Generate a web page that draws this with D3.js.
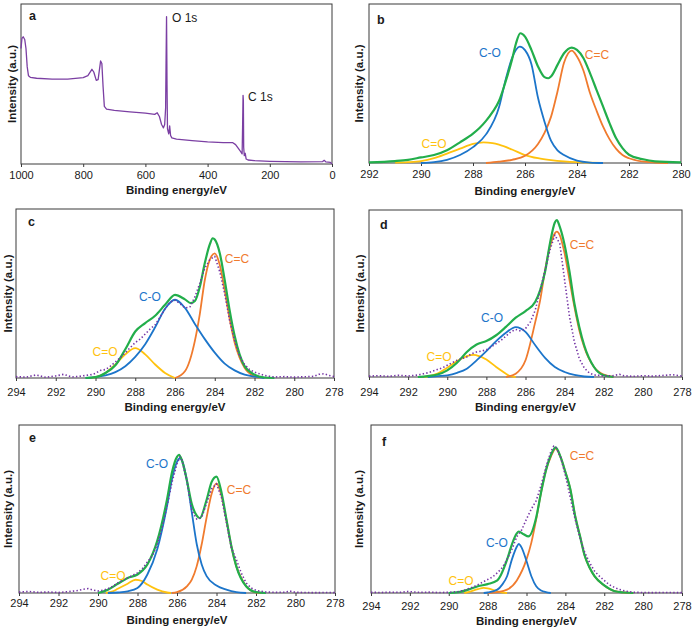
<!DOCTYPE html>
<html><head><meta charset="utf-8">
<script src="https://cdn.jsdelivr.net/npm/d3@7"></script>
<style>
html,body{margin:0;padding:0;background:#fff;}
svg{display:block;font-family:"Liberation Sans",Arial,sans-serif;}
</style></head>
<body>
<svg id="chart" width="694" height="629"></svg>
<script>
// ---------- DATA ----------
const xTitle = "Binding energy/eV";
const yTitle = "Intensity (a.u.)";
const ticksSurvey = [1000, 800, 600, 400, 200, 0];
const ticksB = [292, 290, 288, 286, 284, 282, 280];
const ticksCF = [294, 292, 290, 288, 286, 284, 282, 280, 278];

// panel a : survey spectrum [eV, intensity]
const surveyA = [[1000,72.2],[997,78.5],[993,79.5],[988,77.8],[984,72.2],[980,60.7],[976,55.2],[970,54.2],[950,53.6],[900,53.1],[850,53.1],[800,54.0],[785,55.2],[772,59.2],[766,57.5],[758,52.3],[752,52.7],[744,64.4],[740,62.8],[736,48.1],[732,36.0],[725,34.3],[700,33.5],[650,32.6],[600,31.8],[570,31.0],[562,32.0],[555,29.7],[548,24.7],[542,22.6],[538,24.7],[535,35],[533.5,65],[532,92.1],[530.5,50],[529,22.0],[525,18.8],[522,23.8],[519,17.8],[515,16.3],[500,15.5],[450,14.6],[400,13.8],[350,13.4],[320,13.4],[310,12.1],[300,9.4],[292,7.3],[289,6.3],[287.5,23.0],[286,42.9],[285,39.7],[284,10.5],[282,5.2],[279,6.7],[276,3.1],[270,2.5],[250,2.1],[200,1.7],[100,1.3],[30,1.5],[25,2.3],[20,1.3],[5,1.0],[0,0]];
const peakLabelsA = [{t:"O 1s", e:514.5, v:91.3},{t:"C 1s", e:270, v:41.9}];

// panel b
const bCC = [[287.5,0],[287,0.8],[286.5,2],[286,4.5],[285.5,12],[285.25,19],[285,29],[284.75,45],[284.5,63],[284.2,70.7],[284,67],[283.75,58],[283.5,44],[283.25,33],[283,23],[282.75,15],[282.5,9],[282.25,5],[282,3],[281.5,1],[281,0.3],[280.5,0]];
const bCO = [[290,0],[289.5,0.5],[289,2],[288.5,5],[288,10],[287.5,18],[287,35],[286.75,52],[286.5,66],[286.2,73.2],[286,71],[285.75,62],[285.5,41],[285.25,26],[285,14],[284.75,8],[284.5,5],[284,1.5],[283.5,0.3],[283,0]];
const bCdO = [[291,0.2],[290.5,0.5],[290,1.2],[289.5,3],[289,5.9],[288.5,9],[288,12],[287.6,13],[287.25,12.5],[287,11.5],[286.5,8.5],[286,5],[285.5,3],[285,1.8],[284.5,1],[284,0.5],[283.5,0.2],[283,0]];
const bFit = [[292,0.4],[291,1.2],[290.5,2],[290,3.5],[289.5,5],[289,8],[288.5,13],[288,18.5],[287.75,22],[287.5,26.5],[287.25,32],[287,39],[286.75,51],[286.5,65],[286.35,75],[286.18,81.6],[286,79.5],[285.75,71],[285.5,60.7],[285.25,54],[285.1,53.3],[285,54.4],[284.75,61.7],[284.5,69],[284.2,72.6],[284,71.1],[283.75,65.9],[283.5,56.5],[283.25,46],[283,35.6],[282.75,25.1],[282.5,15.7],[282.25,9.4],[282,5.2],[281.5,2.5],[281,1],[280,0.4]];

// panel c
const cCC = [[286,0],[285.5,4],[285,22],[284.75,38],[284.5,58],[284.25,70],[284,73.8],[283.75,67],[283.5,52],[283.25,35],[283,21],[282.75,12],[282.5,6],[282,1],[281.75,0]];
const cCO = [[290.5,0],[290,0.5],[289.5,1.5],[289,3.5],[288.5,7],[288,12.5],[287.5,20],[287,30],[286.5,41],[286,46.3],[285.5,41.5],[285,32],[284.5,23],[284,15],[283.5,8.5],[283,4.5],[282.5,2],[282,0.8],[281.5,0]];
const cCdO = [[290.2,0],[290,0.5],[289.5,3],[289,8],[288.5,14],[288,17.7],[287.5,14],[287,8],[286.5,3],[286,0]];
const cFit = [[290.5,0],[290,0.5],[289.5,3],[289,7.5],[288.5,17],[288,27.5],[287.5,32.5],[287,36.8],[286.5,43.3],[286,49.2],[285.5,46.5],[285.2,44.3],[285,45.5],[284.75,54],[284.5,68],[284.25,79],[284.1,82.7],[284,82],[283.75,74],[283.5,58],[283.25,40],[283,25],[282.75,14],[282.5,7],[282,2],[281.5,0.3],[281,0]];
const cRaw = [[294,0.8],[293.5,0.5],[293,1.8],[292.5,0.4],[292,1.2],[291.6,2.2],[291.2,0.6],[290.8,1.0],[290.5,1.5],[290.2,2.0],[290,2.8],[289.75,4.5],[289.5,5],[289.25,7],[289,9.5],[288.75,12],[288.5,15],[288.25,18],[288,21],[287.75,23],[287.5,26],[287.25,29],[287,31.5],[286.75,36],[286.5,41],[286.25,45],[286,46],[285.75,44],[285.5,41.5],[285.25,42],[285,48],[284.75,56],[284.5,65],[284.25,70],[284,72],[283.75,63],[283.5,50],[283.25,34],[283,22],[282.75,13],[282.5,8],[282.25,5],[282,3.5],[281.75,2.5],[281.5,1.5],[281.25,1.0],[281,0.6],[280.5,0.8],[280,0.5],[279.5,0.7],[279,1.0],[278.75,2.2],[278.5,2.5],[278.25,1.5],[278,0.8]];

// panel d
const dCC = [[287,0],[286.5,2],[286,10],[285.5,33],[285.25,46],[285,64],[284.75,78],[284.5,86],[284.4,87],[284.25,85],[284,74],[283.75,58],[283.5,42],[283.25,28],[283,18],[282.5,6],[282,1.4],[281.5,0]];
const dCO = [[291,0],[290.5,0.5],[290,1],[289.5,2.5],[289,5],[288.5,10],[288,15.5],[287.5,21.5],[287,26.5],[286.5,29.9],[286,27],[285.5,19],[285,11.5],[284.5,6],[284,3],[283.5,1.2],[283,0.3],[282.5,0]];
const dCdO = [[291.2,0],[291,0.3],[290.5,2],[290,5.5],[289.5,9.5],[289,12.5],[288.65,13.3],[288.5,13],[288,10.5],[287.5,6],[287,2],[286.8,0.5],[286.5,0]];
const dFit = [[291.5,0],[291,0.5],[290.5,1.5],[290,4],[289.5,8.5],[289,15],[288.5,19.5],[288,21.5],[287.5,25],[287,30],[286.5,35.5],[286,39.5],[285.5,45],[285.25,52],[285,63],[284.75,80],[284.5,92.5],[284.4,94],[284.25,90],[284,79],[283.75,63],[283.5,44],[283.25,30],[283,19],[282.5,6],[282,1],[281.5,0]];
const dRaw = [[294,0.5],[293.5,0.8],[293,0.4],[292.5,1.0],[292,0.6],[291.5,1.2],[291.2,2.0],[291,2.5],[290.75,3.5],[290.5,4.5],[290.25,5.5],[290,7],[289.75,8.5],[289.5,10],[289.25,11],[289,12],[288.75,14],[288.5,15],[288.25,15.5],[288,16.3],[287.75,18],[287.5,20],[287.25,22],[287,24.5],[286.75,27],[286.5,28.5],[286.25,27.5],[286,29],[285.75,33],[285.5,40],[285.25,52],[285,64],[284.75,76],[284.5,85],[284.25,80],[284,58],[283.75,36],[283.5,21],[283.25,11],[283,5.5],[282.75,2.5],[282.5,1.2],[282.25,1.0],[282,0.6],[281.5,0.8],[281.2,1.6],[281,0.8],[280.5,0.4],[280,0.8],[279.5,0.5],[279,0.9],[278.5,1.4],[278,0.6]];

// panel e
const eCC = [[286.25,0],[286,0.5],[285.5,4],[285.25,8],[285,16],[284.75,29],[284.5,45],[284.25,59],[284,65.3],[283.75,58],[283.5,43.6],[283.25,28],[283,16],[282.75,9],[282.5,4],[282,0.3],[281.75,0]];
const eCO = [[289.5,0],[289,0.3],[288.5,1],[288,3],[287.5,11],[287,26],[286.5,52],[286.25,68],[286,78],[285.85,80.2],[285.75,79],[285.5,67],[285.25,48],[285,29],[284.75,17],[284.5,10],[284,4.5],[283.5,2],[283,0.5],[282.5,0]];
const eCdO = [[289.6,0],[289.25,1],[289,2.5],[288.5,5.5],[288.1,7.9],[287.75,7],[287.5,5],[287,2],[286.5,0.3],[286.3,0]];
const eFit = [[290,0],[289.5,2],[289,5.5],[288.5,9],[288,11],[287.5,17],[287,31],[286.5,56],[286.25,72],[286,81],[285.9,82.2],[285.75,79],[285.5,67],[285.25,53],[285,46],[284.85,44.5],[284.5,55.5],[284.25,66],[284,69.3],[283.75,60],[283.5,44],[283.25,28],[283,16],[282.5,4],[282,0.5],[281.5,0]];
const eRaw = [[294,0.5],[293.5,0.9],[293,0.4],[292.5,0.6],[292,0.3],[291.5,0.8],[291,1.5],[290.75,2.2],[290.5,2.6],[290.25,1.8],[290,1.2],[289.75,1.6],[289.5,2.5],[289.25,4],[289,6],[288.75,7.5],[288.5,9],[288.25,10.5],[288,12],[287.75,14.5],[287.5,18.5],[287.25,22],[287,29],[286.75,39],[286.5,52],[286.25,66],[286,77],[285.85,81],[285.75,79],[285.5,67],[285.25,49],[285,44],[284.75,45],[284.5,53.5],[284.25,62],[284,65],[283.75,57],[283.5,42],[283.25,27],[283,20],[282.75,12],[282.5,6],[282.25,3],[282,1.6],[281.75,1.0],[281.5,0.6],[281,0.4],[280.5,0.5],[280.3,1.2],[280,0.4],[279.5,0.3],[279,0.2],[278.5,0.3],[278,0.2]];

// panel f
const fCC = [[288,0],[287.5,0.5],[287,2],[286.5,7.5],[286,20],[285.75,30],[285.5,44],[285.25,60],[285,73],[284.75,81],[284.5,86],[284.25,81],[284,72],[283.75,62],[283.5,46],[283.25,34],[283,22],[282.75,15],[282.5,10],[282,4.5],[281.5,1.2],[281,0.3],[280.5,0]];
const fCO = [[288.2,0],[288,0.3],[287.5,2],[287.25,5],[287,10],[286.75,20],[286.5,27.5],[286.4,29.3],[286.25,27],[286,19],[285.75,10],[285.5,4],[285.25,1.5],[285,0.5],[284.75,0]];
const fCdO = [[289.2,0],[289,0.5],[288.5,2.3],[288.2,3],[288,2.8],[287.5,1],[287.2,0.2],[287,0]];
const fFit = [[290,0],[289.5,0.5],[289,2],[288.5,4],[288,5.3],[287.5,7.5],[287,19.8],[286.75,29],[286.5,35.5],[286.4,36.6],[286.15,35],[285.9,33.7],[285.5,45],[285.25,60],[285,73],[284.75,82],[284.5,86.7],[284.25,81],[284,72],[283.75,62],[283.5,46],[283.25,34],[283,22],[282.75,15],[282.5,10],[282,4.5],[281.5,1.2],[281,0.3],[280.5,0]];
const fRaw = [[294,0.4],[293.5,0.3],[293,0.5],[292.5,0.4],[292.1,0.9],[291.5,0.4],[291,0.5],[290.5,0.3],[290,0.4],[289.5,0.8],[289.25,1.5],[289,2.5],[288.75,3.5],[288.5,5],[288.25,6.5],[288,8],[287.75,9.5],[287.5,12],[287.25,15],[287,20],[286.75,26],[286.5,33.5],[286.25,37.5],[286,44],[285.75,50],[285.5,55],[285.25,64],[285,75],[284.75,84],[284.6,87.5],[284.5,87],[284.25,81],[284,70],[283.75,57],[283.5,44],[283.25,33],[283,24],[282.75,18],[282.5,13],[282.25,10],[282,7.5],[281.75,5],[281.5,3.5],[281.25,2.2],[281,1.4],[280.75,0.8],[280.5,0.4],[280,0.3],[279.5,0.2],[279,0.3],[278,0.2]];

// component label positions in data units [eV, intensity]
const labelsB = {CO:[287.35,69.2], CC:[283.23,67.9], CdO:[289.5,11.9]};
const labelsC = {CO:[287.26,47.9], CC:[282.88,70.4], CdO:[289.52,15.4]};
const labelsD = {CO:[287.71,35.3], CC:[283.11,79], CdO:[290.42,12]};
const labelsE = {CO:[287.01,76.8], CC:[282.86,61.3], CdO:[289.24,10.1]};
const labelsF = {CO:[287.52,29.8], CC:[283.15,81.5], CdO:[289.37,7.1]};

// ---------- STYLE ----------
const COL = {fit:"#22AE4B", CO:"#1C75CA", CC:"#F07B2E", CdO:"#FFC20E", raw:"#7535A5", survey:"#7B3FA3", frame:"#3a3a3a", text:"#1a1a1a"};
const svg = d3.select("#chart");

function frameAndAxes(p, x, y) {
  const g = svg.append("g");
  const ax = d3.axisBottom(x).tickValues(p.ticks).tickSize(3).tickSizeOuter(0).tickPadding(p.pad).tickFormat(d3.format("d"));
  const ag = g.append("g").attr("transform", `translate(0,${p.y1})`).call(ax);
  ag.select(".domain").remove();
  ag.selectAll("line").attr("stroke", COL.frame);
  ag.selectAll("text").attr("font-size", 11).attr("fill", COL.text).attr("font-family", '"Liberation Sans",Arial,sans-serif');
  g.append("rect").attr("x", p.x0).attr("y", p.y0).attr("width", p.x1 - p.x0).attr("height", p.y1 - p.y0)
    .attr("fill", "none").attr("stroke", COL.frame).attr("stroke-width", 1);
  g.append("text").attr("x", (p.x0 + p.x1) / 2).attr("y", p.ty).attr("text-anchor", "middle").attr("dominant-baseline", "central")
    .attr("font-weight", "bold").attr("font-size", 11.5).attr("fill", COL.text).text(xTitle);
  g.append("text").attr("transform", `translate(${p.yx},${(p.y0 + p.y1) / 2}) rotate(-90)`).attr("text-anchor", "middle")
    .attr("dominant-baseline", "central").attr("font-weight", "bold").attr("font-size", 11.5).attr("fill", COL.text).text(yTitle);
  g.append("text").attr("x", p.lx).attr("y", p.ly).attr("dominant-baseline", "central").attr("font-weight", "bold")
    .attr("font-size", 12.5).attr("fill", COL.text).text(p.letter);
}

function drawLine(x, y, data, color, w, dash, curve) {
  const sorted = data.slice().sort((a, b) => b[0] - a[0]);
  const line = d3.line().x(d => x(d[0])).y(d => y(d[1])).curve(curve || d3.curveMonotoneX);
  const path = svg.append("path").datum(sorted).attr("d", line).attr("fill", "none")
    .attr("stroke", color).attr("stroke-width", w).attr("stroke-linejoin", "round");
  if (dash) path.attr("stroke-dasharray", dash);
  return path;
}

function spectrum(p, comps, raw, fit, labels) {
  const x = d3.scaleLinear().domain(p.dom).range([p.x0, p.x1]);
  const y = d3.scaleLinear().domain([0, 100]).range([p.y1, p.y0]);
  frameAndAxes(p, x, y);
  drawLine(x, y, comps.CdO, COL.CdO, 1.8);
  drawLine(x, y, comps.CC, COL.CC, 1.8);
  drawLine(x, y, comps.CO, COL.CO, 1.8);
  drawLine(x, y, fit, COL.fit, 2.2);
  if (raw) drawLine(x, y, raw, COL.raw, 1.6, "1.4,2.2", d3.curveLinear);
  const names = {CO:"C-O", CC:"C=C", CdO:"C=O"};
  Object.keys(names).forEach(k => {
    svg.append("text").attr("x", x(labels[k][0])).attr("y", y(labels[k][1])).attr("text-anchor", "middle")
      .attr("dominant-baseline", "central").attr("font-size", 12).attr("fill", COL[k]).text(names[k]);
  });
}

// ---------- PANEL A ----------
(function () {
  const p = {x0:21, x1:332, y0:4, y1:164, dom:[1000,0], ticks:ticksSurvey, pad:4, ty:190, yx:12, lx:29, ly:16, letter:"a"};
  const x = d3.scaleLinear().domain(p.dom).range([p.x0, p.x1]);
  const y = d3.scaleLinear().domain([0, 100]).range([p.y1, p.y0]);
  frameAndAxes(p, x, y);
  drawLine(x, y, surveyA, COL.survey, 1.3, null, d3.curveLinear);
  peakLabelsA.forEach(l => {
    svg.append("text").attr("x", x(l.e)).attr("y", y(l.v)).attr("dominant-baseline", "central")
      .attr("font-size", 12).attr("fill", COL.text).text(l.t);
  });
})();

// ---------- PANELS B-F ----------
spectrum({x0:369, x1:681, y0:4, y1:163, dom:[292,280], ticks:ticksB, pad:4, ty:191, yx:359, lx:377, ly:20, letter:"b"},
  {CC:bCC, CO:bCO, CdO:bCdO}, null, bFit, labelsB);
spectrum({x0:16, x1:334, y0:209, y1:378, dom:[294,278], ticks:ticksCF, pad:7, ty:407, yx:8, lx:28, ly:222, letter:"c"},
  {CC:cCC, CO:cCO, CdO:cCdO}, cRaw, cFit, labelsC);
spectrum({x0:369, x1:682, y0:210, y1:377, dom:[294,278], ticks:ticksCF, pad:8, ty:407, yx:360, lx:380, ly:225, letter:"d"},
  {CC:dCC, CO:dCO, CdO:dCdO}, dRaw, dFit, labelsD);
spectrum({x0:19, x1:335, y0:425, y1:593, dom:[294,278], ticks:ticksCF, pad:3, ty:620, yx:8, lx:29, ly:438, letter:"e"},
  {CC:eCC, CO:eCO, CdO:eCdO}, eRaw, eFit, labelsE);
spectrum({x0:371, x1:682, y0:425, y1:593, dom:[294,278], ticks:ticksCF, pad:6, ty:621, yx:359, lx:382, ly:442, letter:"f"},
  {CC:fCC, CO:fCO, CdO:fCdO}, fRaw, fFit, labelsF);
</script>
</body></html>
